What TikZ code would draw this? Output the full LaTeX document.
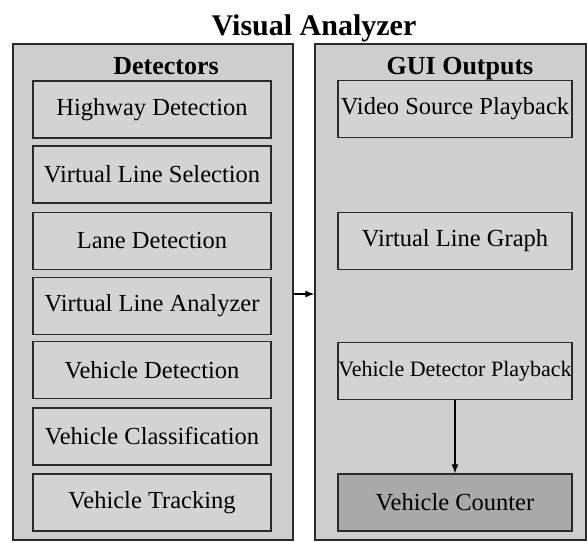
\documentclass[tikz,border=0pt]{standalone}
\usepackage{fontspec}
\setmainfont{Liberation Serif}
\usetikzlibrary{arrows.meta}

\definecolor{panelfill}{HTML}{CECECE}
\definecolor{boxfill}{HTML}{D3D3D3}
\definecolor{counterfill}{HTML}{A9A9A9}
\definecolor{edge}{HTML}{2A2A2A}

\tikzset{
  panel/.style={draw=edge, line width=1.3pt, fill=panelfill, inner sep=0pt,
    minimum height=496pt},
  modbox/.style={draw=edge, line width=1.4pt, fill=boxfill, inner sep=0pt,
    minimum height=57pt, font=\fontsize{24.5}{28}\selectfont, text=black},
  leftbox/.style={modbox, minimum width=238pt},
  rightbox/.style={modbox, minimum width=234pt},
  heading/.style={font=\fontsize{26}{30}\selectfont\bfseries, anchor=base,
    inner sep=0pt},
  link/.style={draw=black, line width=1.2pt, -{Latex[length=9pt,width=7pt]}}
}

\begin{document}
\begin{tikzpicture}[x=1pt, y=-1pt]
  \useasboundingbox (0,0) rectangle (587,542);

  % title
  \node[heading, font=\fontsize{30}{34}\selectfont\bfseries] (title) at (314,35) {Visual Analyzer};

  % the two panels
  \node[panel, minimum width=280pt] (detectors) at (153,292) {};
  \node[panel, minimum width=271pt] (gui) at (450.5,292) {};

  \node[heading] (dethead) at (166,74) {Detectors};
  \node[heading] (guihead) at (460,74) {GUI Outputs};

  % detector modules
  \node[leftbox] (hwy)  at (152,109.5) {Highway Detection};
  \node[leftbox] (vls)  at (152,174.5) {Virtual Line Selection};
  \node[leftbox] (lane) at (152,241)   {Lane Detection};
  \node[leftbox] (vla)  at (152,306)   {Virtual Line Analyzer};
  \node[leftbox] (vdet) at (152,370)   {Vehicle Detection};
  \node[leftbox] (vcls) at (152,436.5) {Vehicle Classification};
  \node[leftbox] (vtrk) at (152,502.5) {Vehicle Tracking};

  % GUI outputs
  \node[rightbox] (vsp) at (455,109) {Video Source Playback};
  \node[rightbox] (vlg) at (455,241) {Virtual Line Graph};
  \node[rightbox, font=\fontsize{22}{26}\selectfont] (vdp) at (455,371) {Vehicle Detector Playback};
  \node[rightbox, fill=counterfill] (vcnt) at (455,502.5) {Vehicle Counter};

  % connectors
  \draw[link] (detectors.east |- 0,294) -- (gui.west |- 0,294);
  \draw[link] (vdp.south) -- (vcnt.north);
\end{tikzpicture}
\end{document}
